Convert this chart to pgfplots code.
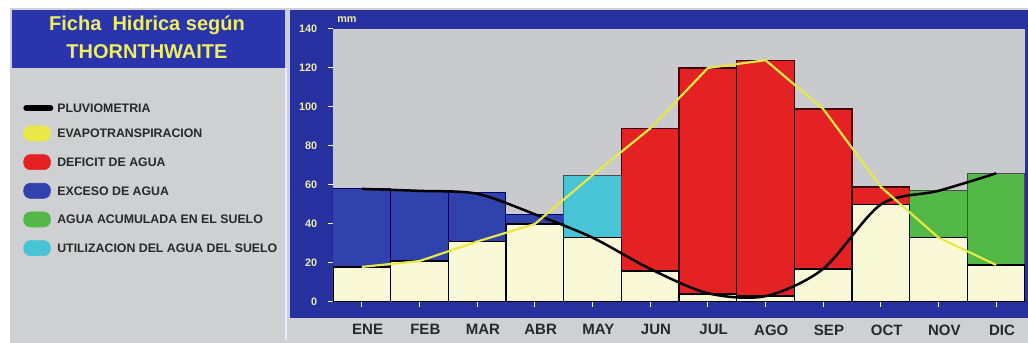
\documentclass[border=0pt]{standalone}
\usepackage{pgfplots}
\pgfplotsset{compat=1.18}
\usepackage{fontspec}
\setmainfont{Liberation Sans}
\definecolor{frameblue}{RGB}{38,48,158}
\definecolor{titleblue}{RGB}{42,52,172}
\definecolor{excessblue}{RGB}{48,66,172}
\definecolor{plotgray}{RGB}{200,202,206}
\definecolor{panelgray}{RGB}{207,208,210}
\definecolor{cream}{RGB}{250,249,215}
\definecolor{deficitred}{RGB}{228,34,36}
\definecolor{rechargegreen}{RGB}{84,184,72}
\definecolor{usecyan}{RGB}{72,196,214}
\definecolor{etpyellow}{RGB}{232,232,70}
\definecolor{titleyellow}{RGB}{238,238,100}
\definecolor{tickyellow}{RGB}{240,238,175}
\definecolor{labeldark}{RGB}{40,40,40}
\begin{document}
\begin{tikzpicture}
\useasboundingbox (0,0) rectangle (616.8pt,205.8pt);
\begin{scope}[yshift=205.8pt,x=0.6pt,y=-0.6pt]
\fill[white] (0,0) rectangle (1028,343);
\fill[panelgray] (10,8) rectangle (1028,343);
\fill[frameblue] (290,10) rectangle (1028,318);
\fill[titleblue] (12,10) rectangle (285,68);
\draw[white!75!blue!30, line width=1pt] (286,68) -- (286,340);
\node[titleyellow, font=\fontsize{12}{14}\selectfont\bfseries] at (147,25) {Ficha\ \ Hidrica según};
\node[titleyellow, font=\fontsize{12}{14}\selectfont\bfseries] at (147,52) {THORNTHWAITE};
\node[tickyellow, anchor=west, inner sep=0pt, font=\fontsize{6.5}{7}\selectfont\bfseries] at (337,20) {mm};
\end{scope}
\begin{axis}[
  at={(199.8pt,24.6pt)}, anchor=south west,
  scale only axis, width=415.2pt, height=163.8pt,
  xmin=0, xmax=12, ymin=0, ymax=140,
  axis background/.style={fill=plotgray},
  axis line style={draw=none},
  tick align=outside, tick pos=left,
  major tick length=3pt,
  tick style={white, line width=0.6pt},
  /pgf/number format/assume math mode=true,
  ytick={0,20,...,140},
  yticklabel style={tickyellow, font=\fontsize{6.5}{7}\selectfont\bfseries, xshift=-3pt},
  xtick={0.5,1.5,...,11.5},
  xticklabels={ENE,FEB,MAR,ABR,MAY,JUN,JUL,AGO,SEP,OCT,NOV,DIC},
  xticklabel style={labeldark, font=\fontsize{9}{10}\selectfont\bfseries, xshift=3.5pt, yshift=-7pt},
  legend style={at={(axis description cs:-0.4552,0.740)}, anchor=north west,
    draw=none, fill=none, font=\fontsize{7.4}{8}\selectfont\bfseries, text=labeldark,
    nodes={inner sep=0pt, text height=5.4pt, text depth=0pt},
    row sep=7.8pt,
    /tikz/every odd column/.append style={column sep=2.4pt}},
  legend cell align=left,
]
% coloured part of each bar (drawn to its full height)
\addplot[ybar, bar width=1, bar shift=0pt, fill=excessblue, draw=black!60!blue, line width=0.6pt, forget plot]
  coordinates {(0.5,58) (1.5,57) (2.5,56) (3.5,45)};
\addplot[ybar, bar width=1, bar shift=0pt, fill=deficitred, draw=black!75!red, line width=0.7pt, forget plot]
  coordinates {(5.5,89) (6.5,120) (7.5,124) (8.5,99) (9.5,59)};
\addplot[ybar, bar width=1, bar shift=0pt, fill=rechargegreen, draw=black!70, line width=0.7pt, forget plot]
  coordinates {(10.5,57) (11.5,66)};
\addplot[ybar, bar width=1, bar shift=0pt, fill=usecyan, draw=black!70, line width=0.7pt, forget plot]
  coordinates {(4.5,65)};
% cream base (rain actually used)
\addplot[ybar, bar width=1, bar shift=0pt, fill=cream, draw=black, line width=0.9pt, forget plot]
  coordinates {(0.5,18) (1.5,21) (2.5,31) (3.5,40) (4.5,33) (5.5,16) (6.5,4) (7.5,3) (8.5,17) (9.5,50) (10.5,33) (11.5,19)};
% pluviometria
\addplot[black, line width=1.5pt, smooth, tension=0.5, forget plot]
  coordinates {(0.5,58) (1.5,57) (2.5,55.5) (3.5,45) (4.5,33) (5.5,17) (6.5,4.5) (7.5,3) (8.5,17) (9.5,50) (10.5,57) (11.5,66)};
% evapotranspiracion
\addplot[etpyellow, line width=1.3pt, forget plot]
  coordinates {(0.5,18) (1.5,21) (2.5,31) (3.5,40) (4.5,65) (5.5,89) (6.5,120) (7.5,124) (8.5,99) (9.5,59) (10.5,33) (11.5,19)};
\addlegendimage{legend image code/.code={\draw[black, line width=3.5pt, line cap=round] (1.5pt,0pt) -- (16pt,0pt);}}
\addlegendentry{PLUVIOMETRIA}
\addlegendimage{legend image code/.code={\fill[etpyellow, rounded corners=4pt] (0pt,-4.5pt) rectangle (16pt,4.5pt);}}
\addlegendentry{EVAPOTRANSPIRACION}
\addlegendimage{legend image code/.code={\fill[deficitred, rounded corners=4pt] (0pt,-4.5pt) rectangle (16pt,4.5pt);}}
\addlegendentry{DEFICIT DE AGUA}
\addlegendimage{legend image code/.code={\fill[excessblue, rounded corners=4pt] (0pt,-4.5pt) rectangle (16pt,4.5pt);}}
\addlegendentry{EXCESO DE AGUA}
\addlegendimage{legend image code/.code={\fill[rechargegreen, rounded corners=4pt] (0pt,-4.5pt) rectangle (16pt,4.5pt);}}
\addlegendentry{AGUA ACUMULADA EN EL SUELO}
\addlegendimage{legend image code/.code={\fill[usecyan, rounded corners=4pt] (0pt,-4.5pt) rectangle (16pt,4.5pt);}}
\addlegendentry{UTILIZACION DEL AGUA DEL SUELO}
\end{axis}
\end{tikzpicture}
\end{document}
